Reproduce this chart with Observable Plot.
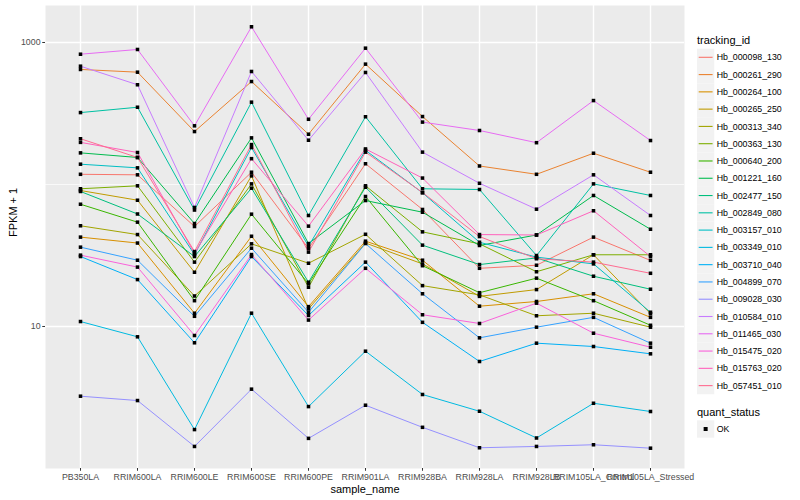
<!DOCTYPE html>
<html><head><meta charset="utf-8">
<script src="https://cdn.jsdelivr.net/npm/d3@7"></script>
<script src="https://cdn.jsdelivr.net/npm/@observablehq/plot@0.6"></script>
<style>
body{margin:0;background:#fff;font-family:"Liberation Sans",Arial,sans-serif;}
#wrap{position:relative;width:800px;height:500px;overflow:hidden;}
#chart{position:absolute;left:0;top:0;}
#legend{position:absolute;left:690px;top:0;}
</style></head><body>
<div id="wrap"><div id="chart"></div><div id="legend"></div></div>
<script>
const samples = ["PB350LA","RRIM600LA","RRIM600LE","RRIM600SE","RRIM600PE","RRIM901LA","RRIM928BA","RRIM928LA","RRIM928LB","RRIM105LA_Control","RRIM105LA_Stressed"];
const trackingIds = ["Hb_000098_130","Hb_000261_290","Hb_000264_100","Hb_000265_250","Hb_000313_340","Hb_000363_130","Hb_000640_200","Hb_001221_160","Hb_002477_150","Hb_002849_080","Hb_003157_010","Hb_003349_010","Hb_003710_040","Hb_004899_070","Hb_009028_030","Hb_010584_010","Hb_011465_030","Hb_015475_020","Hb_015763_020","Hb_057451_010"];
const palette = ["#F8766D","#EA8331","#D89000","#C09B00","#A3A500","#7CAE00","#39B600","#00BB4E","#00BF7D","#00C1A3","#00BFC4","#00BAE0","#00B0F6","#35A2FF","#9590FF","#C77CFF","#E76BF3","#FA62DB","#FF62BC","#FF6C91"];
const yTicks = [10, 1000];

// FPKM + 1 per sample (order of samples)
const Hb_000098_130 = [118, 117, 50.6, 122, 35.4, 140, 66.7, 25.7, 27.0, 42.6, 29.2];
const Hb_000261_290 = [646, 618, 236, 531, 226, 704, 301, 135, 118, 166, 122];
const Hb_000264_100 = [42.6, 38.7, 12.4, 43.2, 13.8, 39.9, 29.3, 13.9, 15.0, 17.0, 11.6];
const Hb_000265_250 = [90.7, 77.5, 24.1, 115, 13.3, 38.7, 27.6, 16.3, 18.2, 32.0, 12.3];
const Hb_000313_340 = [51.2, 44.4, 16.4, 38.2, 27.9, 44.6, 19.4, 16.7, 11.9, 12.4, 9.89];
const Hb_000363_130 = [93.3, 97.9, 28.4, 101, 18.9, 97.9, 46.4, 38.2, 24.3, 32.0, 32.0];
const Hb_000640_200 = [72.6, 54.3, 15.2, 61.8, 20.0, 82.3, 26.8, 17.3, 21.9, 15.2, 10.2];
const Hb_001221_160 = [167, 155, 53.1, 213, 38.4, 77.1, 63.8, 37.2, 44.1, 83.7, 48.4];
const Hb_002477_150 = [89.3, 62.0, 31.1, 94.2, 20.5, 95.7, 37.4, 27.3, 30.4, 22.6, 18.3];
const Hb_002849_080 = [321, 350, 66.1, 380, 60.5, 300, 93.3, 92.2, 31.6, 101, 83.7];
const Hb_003157_010 = [139, 131, 32.1, 182, 36.8, 174, 87.4, 39.2, 30.8, 27.6, 12.6];
const Hb_003349_010 = [10.84, 8.46, 1.88, 12.41, 2.73, 6.70, 3.32, 2.53, 1.64, 2.88, 2.52];
const Hb_003710_040 = [31.1, 21.4, 7.68, 31.1, 11.96, 28.4, 10.7, 5.67, 7.63, 7.23, 6.42];
const Hb_004899_070 = [36.2, 29.3, 11.8, 35.6, 12.6, 38.4, 17.0, 8.32, 9.89, 11.6, 7.63];
const Hb_009028_030 = [3.23, 3.01, 1.43, 3.62, 1.63, 2.79, 1.95, 1.40, 1.43, 1.47, 1.39];
const Hb_010584_010 = [681, 504, 68.9, 625, 205, 615, 169, 102, 67.0, 117, 60.5];
const Hb_011465_030 = [827, 893, 259, 1290, 288, 912, 275, 240, 197, 390, 204];
const Hb_015475_020 = [31.8, 26.2, 8.64, 32.1, 11.1, 25.7, 12.1, 10.5, 14.6, 8.97, 7.15];
const Hb_015763_020 = [198, 168, 32.7, 152, 50.9, 178, 111, 44.4, 44.1, 65.3, 31.1];
const Hb_057451_010 = [210, 155, 33.7, 191, 33.4, 169, 87.8, 43.0, 30.0, 28.4, 23.7];

const seriesValues = [Hb_000098_130,Hb_000261_290,Hb_000264_100,Hb_000265_250,Hb_000313_340,Hb_000363_130,Hb_000640_200,Hb_001221_160,Hb_002477_150,Hb_002849_080,Hb_003157_010,Hb_003349_010,Hb_003710_040,Hb_004899_070,Hb_009028_030,Hb_010584_010,Hb_011465_030,Hb_015475_020,Hb_015763_020,Hb_057451_010];

const rows = [];
trackingIds.forEach((id, i) => seriesValues[i].forEach((v, j) => rows.push({tracking_id: id, sample_name: samples[j], fpkm: v, quant_status: "OK"})));

const font = "Liberation Sans, Arial, sans-serif";
const chart = Plot.plot({
  width: 690, height: 500,
  marginLeft: 45, marginRight: 6, marginTop: 5, marginBottom: 32,
  style: {fontFamily: font, background: "white", overflow: "visible"},
  x: {type: "point", domain: samples, padding: 0.6},
  y: {type: "log", domain: [1, 1822]},
  color: {domain: trackingIds, range: palette},
  marks: [
    Plot.frame({fill: "#EBEBEB", stroke: null}),
    Plot.ruleY([100], {stroke: "white", strokeWidth: 0.7}),
    Plot.ruleY(yTicks, {stroke: "white", strokeWidth: 1.4}),
    Plot.ruleX(samples, {stroke: "white", strokeWidth: 1.4}),
    Plot.line(rows, {x: "sample_name", y: "fpkm", z: "tracking_id", stroke: "tracking_id", strokeWidth: 1}),
    Plot.dot(rows, {x: "sample_name", y: "fpkm", fill: "black", r: 2, symbol: "square"}),
    Plot.axisY({ticks: yTicks, tickFormat: d => String(d), tickSize: 2.75, tickPadding: 2.2, fontSize: 8.8, fill: "#4D4D4D", stroke: "#333333", label: null}),
    Plot.axisX({ticks: samples, tickSize: 2.75, tickPadding: 2.2, fontSize: 8.8, fill: "#4D4D4D", stroke: "#333333", label: null}),
    Plot.text(["FPKM + 1"], {frameAnchor: "left", dx: -32, rotate: -90, fontSize: 11, fill: "black"}),
    Plot.text(["sample_name"], {frameAnchor: "bottom", dy: 24, fontSize: 11, fill: "black"})
  ]
});
document.getElementById("chart").appendChild(chart);

// legend
const lg = d3.select("#legend").append("svg").attr("width", 110).attr("height", 500)
  .style("font-family", font);
lg.append("text").attr("x", 7).attr("y", 44).attr("font-size", 11).text("tracking_id");
const key = 17.28;
trackingIds.forEach((id, i) => {
  const cy = 57.3 + i * key;
  lg.append("rect").attr("x", 7).attr("y", cy - key / 2).attr("width", key).attr("height", key).attr("fill", "#F2F2F2");
  lg.append("line").attr("x1", 8.7).attr("x2", 7 + key - 1.7).attr("y1", cy).attr("y2", cy).attr("stroke", palette[i]).attr("stroke-width", 1.1);
  lg.append("text").attr("x", 26.7).attr("y", cy).attr("dy", "0.35em").attr("font-size", 8.8).attr("fill", "black").text(id);
});
lg.append("text").attr("x", 7).attr("y", 416).attr("font-size", 11).text("quant_status");
lg.append("rect").attr("x", 7).attr("y", 429 - key / 2).attr("width", key).attr("height", key).attr("fill", "#F2F2F2");
lg.append("rect").attr("x", 7 + key / 2 - 2).attr("y", 429 - 2).attr("width", 4).attr("height", 4).attr("fill", "black");
lg.append("text").attr("x", 26.7).attr("y", 429).attr("dy", "0.35em").attr("font-size", 8.8).attr("fill", "black").text("OK");
</script>
</body></html>
